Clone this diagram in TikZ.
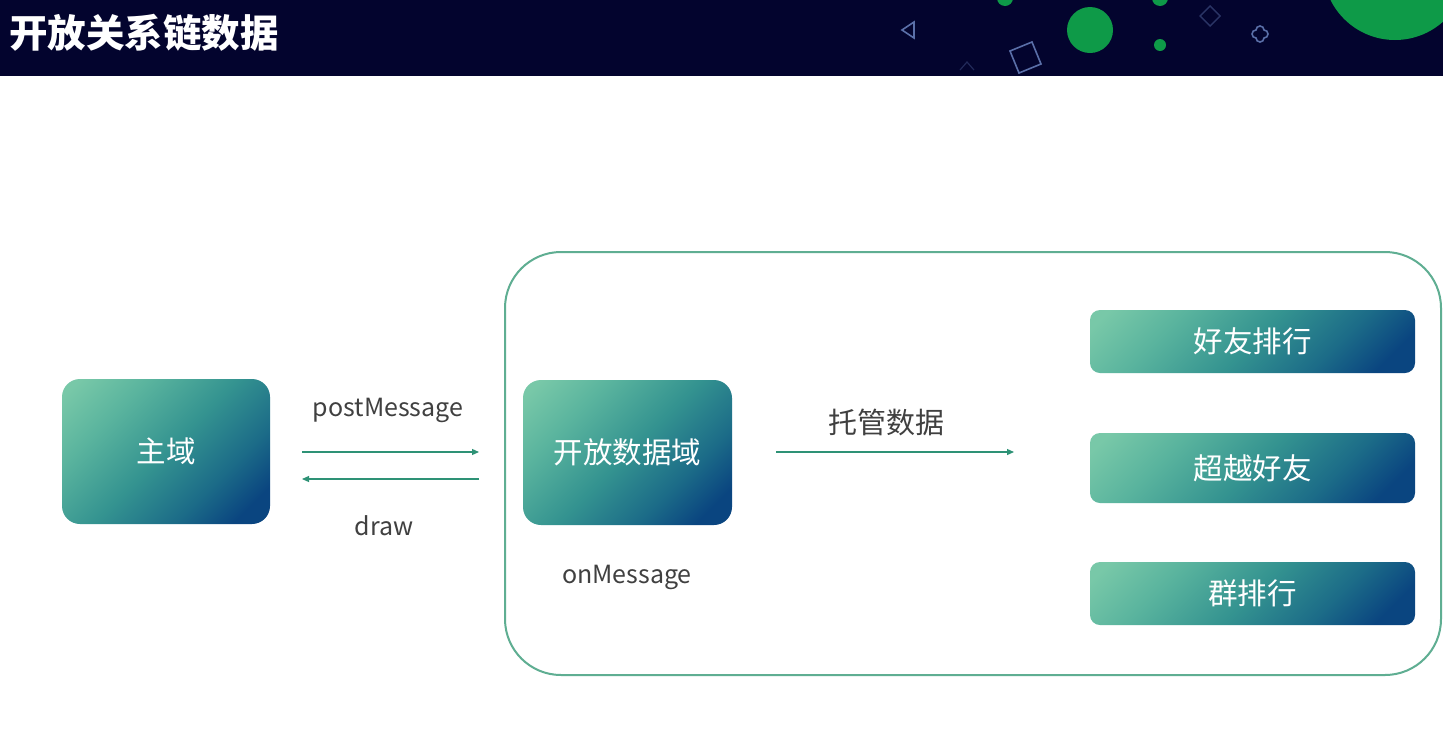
\documentclass[tikz,border=0pt]{standalone}
\usepackage{fontspec}
\setmainfont{Noto Sans CJK SC}
\usetikzlibrary{arrows.meta,calc}
\definecolor{navy}{HTML}{03042E}
\definecolor{dotgreen}{HTML}{0E9A48}
\definecolor{gl}{HTML}{78C8A8}
\definecolor{gml}{HTML}{5AB49E}
\definecolor{gm}{HTML}{349390}
\definecolor{gmd}{HTML}{1C6C88}
\definecolor{gd}{HTML}{0A4580}
\definecolor{framec}{HTML}{5FAE92}
\definecolor{arrowc}{HTML}{2E9276}
\definecolor{labelc}{HTML}{404040}
\definecolor{outl}{HTML}{5A6FA8}
\pgfdeclareverticalshading{boxshade}{100bp}{color(0bp)=(gd); color(22bp)=(gd); color(34bp)=(gmd); color(50bp)=(gm); color(68bp)=(gml); color(82bp)=(gl); color(100bp)=(gl)}
\tikzset{
  gbox/.style={rounded corners=18pt, shading=boxshade, shading angle=45,
    text=white, font=\fontsize{29.5}{32}\selectfont, inner sep=0pt},
  lbl/.style={text=labelc, font=\fontsize{25}{28}\selectfont, inner sep=0pt},
  conn/.style={draw=arrowc, line width=1.2pt, -{Triangle[length=7pt,width=6pt]}},
  deco/.style={draw=outl, line width=1.6pt}
}
\begin{document}
\begin{tikzpicture}[x=1pt,y=-1pt]
\useasboundingbox (0,0) rectangle (1443,737);
\fill[white] (0,0) rectangle (1443,737);
% header
\fill[navy] (0,0) rectangle (1443,76);
\begin{scope}
\clip (0,0) rectangle (1443,76);
\fill[dotgreen] (1395,-32) circle[radius=72];
\fill[dotgreen] (1090,30) circle[radius=23];
\fill[dotgreen] (1160,45) circle[radius=6];
\fill[dotgreen] (1005,-2) circle[radius=8];
\fill[dotgreen] (1160,-2) circle[radius=8];
\draw[deco] (902,30) -- (914,22) -- (914,38) -- cycle;
\draw[deco] (1025,57) ++(-15,-6) -- ++(22,-9) -- ++(9,22) -- ++(-22,9) -- cycle;
\draw[draw=outl!45!navy, line width=1.4pt] (1210,6) -- (1220,16) -- (1210,26) -- (1200,16) -- cycle;
\draw[draw=outl!35!navy, line width=1.2pt] (960,70) -- (967,62) -- (974,70);
\draw[deco] (1256,38) arc[start angle=180,end angle=0,radius=4]
  arc[start angle=90,end angle=-90,radius=4]
  arc[start angle=0,end angle=-180,radius=4]
  arc[start angle=-90,end angle=-270,radius=4] -- cycle;
\draw[deco] (1256,38) -- (1256,38);
\end{scope}
\node[anchor=west, text=white, font=\bfseries\fontsize{38.5}{42}\selectfont, inner sep=0pt] (title) at (9,33) {开放关系链数据};
% frame
\draw[framec, line width=2pt, rounded corners=56pt] (505,252) rectangle (1441,675);
% boxes
\node[gbox, minimum width=208pt, minimum height=145pt] (main) at (166,451.5) {主域};
\node[gbox, minimum width=209pt, minimum height=145pt] (open) at (627.5,452.5) {开放数据域};
\node[gbox, rounded corners=10pt, minimum width=325pt, minimum height=63pt] (r1) at (1252.5,341.5) {好友排行};
\node[gbox, rounded corners=10pt, minimum width=325pt, minimum height=70pt] (r2) at (1252.5,468) {超越好友};
\node[gbox, rounded corners=10pt, minimum width=325pt, minimum height=63pt] (r3) at (1252.5,593.5) {群排行};
% labels
\node[lbl] (pm) at (388,410) {postMessage};
\node[lbl] (dr) at (384,526) {draw};
\node[lbl] (om) at (627,577) {onMessage};
\node[lbl, font=\fontsize{29}{32}\selectfont] (tg) at (886,422) {托管数据};
% connectors
\coordinate (p1) at (302,452);
\coordinate (p2) at (479,452);
\coordinate (d1) at (479,479);
\coordinate (d2) at (302,479);
\coordinate (t1) at (776,452);
\coordinate (t2) at (1014,452);
\draw[conn] (p1) -- (p2);
\draw[conn] (d1) -- (d2);
\draw[conn] (t1) -- (t2);
\end{tikzpicture}
\end{document}
